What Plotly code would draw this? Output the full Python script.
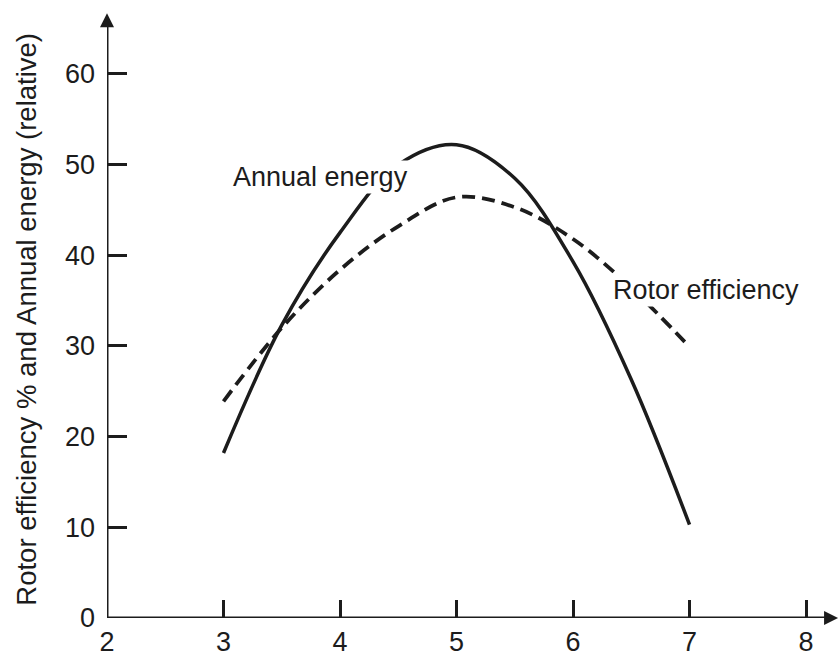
import plotly.graph_objects as go

# Data
wind_speed = [3, 3.5, 4, 4.5, 5, 5.5, 6, 6.5, 7]
annual_energy = [18.2, 32.3, 42.5, 50.0, 52.2, 48.5, 39.3, 26.3, 10.3]
rotor_efficiency = [23.9, 32.0, 38.4, 43.2, 46.4, 45.3, 41.8, 36.4, 29.9]

x_ticks = [2, 3, 4, 5, 6, 7, 8]
y_ticks = [0, 10, 20, 30, 40, 50, 60]

FONT = "Liberation Sans, Arial, Helvetica, sans-serif"
INK = "#1c1c1c"

X_MIN, X_MAX = 2, 2 + 733 / 116.5
Y_MIN, Y_MAX = 0, 618 / 9.067
X_TIP, Y_TIP = 8.275, 66.7

fig = go.Figure()

fig.add_trace(go.Scatter(
    x=wind_speed, y=annual_energy, mode="lines", name="Annual energy",
    line=dict(color=INK, width=3.5, shape="spline", smoothing=1.0),
    showlegend=False, hoverinfo="skip"))
fig.add_trace(go.Scatter(
    x=wind_speed, y=rotor_efficiency, mode="lines", name="Rotor efficiency",
    line=dict(color=INK, width=3.8, shape="spline", smoothing=1.0, dash="13px,7px"),
    showlegend=False, hoverinfo="skip"))
# invisible trace so the label axis is laid out
fig.add_trace(go.Scatter(x=[X_MIN, X_MAX], y=[Y_MIN, Y_MIN], mode="lines", xaxis="x2",
                         line=dict(width=0), opacity=0, showlegend=False, hoverinfo="skip"))

# axis lines
fig.add_shape(type="line", x0=X_MIN, y0=0, x1=X_TIP - 0.05, y1=0,
              line=dict(color=INK, width=3), layer="above")
fig.add_shape(type="line", x0=X_MIN, y0=0, x1=X_MIN, y1=Y_TIP - 1,
              line=dict(color=INK, width=3), layer="above")
# arrowheads
fig.add_trace(go.Scatter(x=[X_TIP], y=[0], mode="markers", cliponaxis=False,
                         marker=dict(symbol="arrow-right", size=14, color=INK,
                                     line=dict(width=0)),
                         showlegend=False, hoverinfo="skip"))
fig.add_trace(go.Scatter(x=[X_MIN], y=[Y_TIP], mode="markers", cliponaxis=False,
                         marker=dict(symbol="arrow-up", size=14, color=INK,
                                     line=dict(width=0)),
                         showlegend=False, hoverinfo="skip"))

fig.add_annotation(x=3.066, y=48.6, text="Annual energy", showarrow=False,
                   xanchor="left", yanchor="middle", bgcolor="white",
                   font=dict(family=FONT, size=27, color=INK))
fig.add_annotation(x=6.33, y=36.2, text="Rotor efficiency", showarrow=False,
                   xanchor="left", yanchor="middle", bgcolor="white",
                   font=dict(family=FONT, size=27, color=INK))
fig.add_annotation(x=0, xref="paper", xshift=-80, y=32.9, yref="y",
                   text="Rotor efficiency % and Annual energy (relative)",
                   textangle=-90, showarrow=False, xanchor="center", yanchor="middle",
                   font=dict(family=FONT, size=27.5, color=INK))

# tick marks (no labels)
fig.update_layout(xaxis=dict(
    range=[X_MIN, X_MAX], tickvals=x_ticks, showticklabels=False,
    ticks="inside", ticklen=18, tickwidth=2.5, tickcolor=INK, automargin=False,
    showgrid=False, zeroline=False, showline=False))
# tick labels (no marks)
fig.update_layout(xaxis2=dict(
    overlaying="x", anchor="y", side="bottom",
    range=[X_MIN, X_MAX], tickvals=x_ticks, ticktext=[str(v) for v in x_ticks],
    ticks="", ticklabelstandoff=5, automargin=False,
    showgrid=False, zeroline=False, showline=False,
    tickfont=dict(family=FONT, size=27, color=INK)))
fig.update_yaxes(range=[Y_MIN, Y_MAX], tickvals=y_ticks, ticktext=[str(v) for v in y_ticks],
                 ticks="inside", ticklen=20, tickwidth=2.5, tickcolor=INK,
                 ticklabelstandoff=11, automargin=False,
                 showgrid=False, zeroline=False, showline=False,
                 tickfont=dict(family=FONT, size=27, color=INK))

fig.update_layout(width=840, height=657, margin=dict(l=107, r=0, t=0, b=39),
                  plot_bgcolor="white", paper_bgcolor="white")

fig.write_html("out.html")
